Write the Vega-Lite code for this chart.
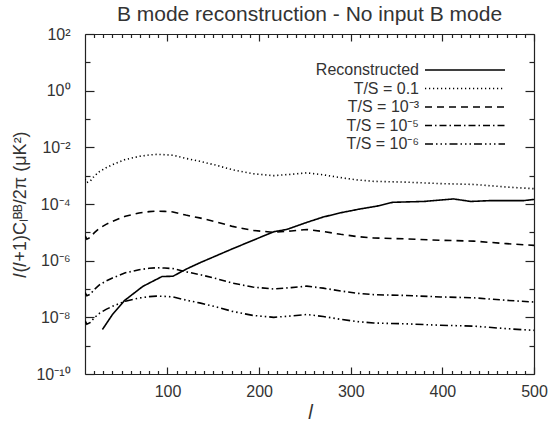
{
  "$schema": "https://vega.github.io/schema/vega-lite/v6.json",
  "width": 449,
  "height": 340,
  "autosize": {"type": "none"},
  "padding": {"left": 85, "top": 34, "right": 14, "bottom": 54},
  "background": "white",
  "title": {"text": "B mode reconstruction - No input B mode", "fontSize": 21, "font": "Liberation Sans", "fontWeight": "normal", "color": "#333333", "anchor": "middle", "offset": 1},
  "config": {
    "view": {"stroke": null},
    "axis": {"labelFont": "Liberation Sans", "labelFontSize": 16, "labelColor": "#333333", "titleFont": "Liberation Sans", "titleColor": "#333333", "titleFontWeight": "normal", "domainColor": "#222222", "tickColor": "#222222", "grid": false, "domainWidth": 1.2, "tickWidth": 1.2}
  },
  "datasets": {
    "curves": [
      {"s": "Reconstructed", "l": 29, "v": 3.72e-9},
      {"s": "Reconstructed", "l": 40, "v": 1.26e-8},
      {"s": "Reconstructed", "l": 53, "v": 3.89e-8},
      {"s": "Reconstructed", "l": 73, "v": 1.23e-7},
      {"s": "Reconstructed", "l": 94, "v": 2.75e-7},
      {"s": "Reconstructed", "l": 106, "v": 2.82e-7},
      {"s": "Reconstructed", "l": 121, "v": 5.13e-7},
      {"s": "Reconstructed", "l": 135, "v": 8.32e-7},
      {"s": "Reconstructed", "l": 171, "v": 2.63e-6},
      {"s": "Reconstructed", "l": 216, "v": 1.05e-5},
      {"s": "Reconstructed", "l": 230, "v": 1.26e-5},
      {"s": "Reconstructed", "l": 252, "v": 2.24e-5},
      {"s": "Reconstructed", "l": 270, "v": 3.47e-5},
      {"s": "Reconstructed", "l": 289, "v": 4.90e-5},
      {"s": "Reconstructed", "l": 311, "v": 6.76e-5},
      {"s": "Reconstructed", "l": 328, "v": 8.32e-5},
      {"s": "Reconstructed", "l": 346, "v": 1.15e-4},
      {"s": "Reconstructed", "l": 380, "v": 1.23e-4},
      {"s": "Reconstructed", "l": 412, "v": 1.51e-4},
      {"s": "Reconstructed", "l": 431, "v": 1.23e-4},
      {"s": "Reconstructed", "l": 453, "v": 1.32e-4},
      {"s": "Reconstructed", "l": 489, "v": 1.32e-4},
      {"s": "Reconstructed", "l": 500, "v": 1.45e-4},

      {"s": "T/S = 0.1", "l": 10, "v": 7.59e-4},
      {"s": "T/S = 0.1", "l": 12, "v": 5.75e-4},
      {"s": "T/S = 0.1", "l": 16, "v": 6.61e-4},
      {"s": "T/S = 0.1", "l": 20, "v": 9.55e-4},
      {"s": "T/S = 0.1", "l": 26, "v": 1.41e-3},
      {"s": "T/S = 0.1", "l": 33, "v": 1.91e-3},
      {"s": "T/S = 0.1", "l": 40, "v": 2.45e-3},
      {"s": "T/S = 0.1", "l": 54, "v": 3.72e-3},
      {"s": "T/S = 0.1", "l": 69, "v": 4.79e-3},
      {"s": "T/S = 0.1", "l": 80, "v": 5.37e-3},
      {"s": "T/S = 0.1", "l": 88, "v": 5.62e-3},
      {"s": "T/S = 0.1", "l": 97, "v": 5.50e-3},
      {"s": "T/S = 0.1", "l": 106, "v": 5.25e-3},
      {"s": "T/S = 0.1", "l": 120, "v": 4.07e-3},
      {"s": "T/S = 0.1", "l": 135, "v": 3.24e-3},
      {"s": "T/S = 0.1", "l": 153, "v": 2.34e-3},
      {"s": "T/S = 0.1", "l": 171, "v": 1.62e-3},
      {"s": "T/S = 0.1", "l": 193, "v": 1.17e-3},
      {"s": "T/S = 0.1", "l": 216, "v": 1.00e-3},
      {"s": "T/S = 0.1", "l": 235, "v": 1.12e-3},
      {"s": "T/S = 0.1", "l": 252, "v": 1.26e-3},
      {"s": "T/S = 0.1", "l": 270, "v": 1.07e-3},
      {"s": "T/S = 0.1", "l": 289, "v": 8.51e-4},
      {"s": "T/S = 0.1", "l": 307, "v": 7.08e-4},
      {"s": "T/S = 0.1", "l": 325, "v": 6.31e-4},
      {"s": "T/S = 0.1", "l": 361, "v": 5.89e-4},
      {"s": "T/S = 0.1", "l": 398, "v": 5.25e-4},
      {"s": "T/S = 0.1", "l": 434, "v": 4.90e-4},
      {"s": "T/S = 0.1", "l": 470, "v": 3.98e-4},
      {"s": "T/S = 0.1", "l": 500, "v": 3.47e-4},

      {"s": "T/S = 10⁻³", "l": 10, "v": 7.59e-6},
      {"s": "T/S = 10⁻³", "l": 12, "v": 5.75e-6},
      {"s": "T/S = 10⁻³", "l": 16, "v": 6.61e-6},
      {"s": "T/S = 10⁻³", "l": 20, "v": 9.55e-6},
      {"s": "T/S = 10⁻³", "l": 26, "v": 1.41e-5},
      {"s": "T/S = 10⁻³", "l": 33, "v": 1.91e-5},
      {"s": "T/S = 10⁻³", "l": 40, "v": 2.45e-5},
      {"s": "T/S = 10⁻³", "l": 54, "v": 3.72e-5},
      {"s": "T/S = 10⁻³", "l": 69, "v": 4.79e-5},
      {"s": "T/S = 10⁻³", "l": 80, "v": 5.37e-5},
      {"s": "T/S = 10⁻³", "l": 88, "v": 5.62e-5},
      {"s": "T/S = 10⁻³", "l": 97, "v": 5.50e-5},
      {"s": "T/S = 10⁻³", "l": 106, "v": 5.25e-5},
      {"s": "T/S = 10⁻³", "l": 120, "v": 4.07e-5},
      {"s": "T/S = 10⁻³", "l": 135, "v": 3.24e-5},
      {"s": "T/S = 10⁻³", "l": 153, "v": 2.34e-5},
      {"s": "T/S = 10⁻³", "l": 171, "v": 1.62e-5},
      {"s": "T/S = 10⁻³", "l": 193, "v": 1.17e-5},
      {"s": "T/S = 10⁻³", "l": 216, "v": 1.00e-5},
      {"s": "T/S = 10⁻³", "l": 235, "v": 1.12e-5},
      {"s": "T/S = 10⁻³", "l": 252, "v": 1.26e-5},
      {"s": "T/S = 10⁻³", "l": 270, "v": 1.07e-5},
      {"s": "T/S = 10⁻³", "l": 289, "v": 8.51e-6},
      {"s": "T/S = 10⁻³", "l": 307, "v": 7.08e-6},
      {"s": "T/S = 10⁻³", "l": 325, "v": 6.31e-6},
      {"s": "T/S = 10⁻³", "l": 361, "v": 5.89e-6},
      {"s": "T/S = 10⁻³", "l": 398, "v": 5.25e-6},
      {"s": "T/S = 10⁻³", "l": 434, "v": 4.90e-6},
      {"s": "T/S = 10⁻³", "l": 470, "v": 3.98e-6},
      {"s": "T/S = 10⁻³", "l": 500, "v": 3.47e-6},

      {"s": "T/S = 10⁻⁵", "l": 10, "v": 7.59e-8},
      {"s": "T/S = 10⁻⁵", "l": 12, "v": 5.75e-8},
      {"s": "T/S = 10⁻⁵", "l": 16, "v": 6.61e-8},
      {"s": "T/S = 10⁻⁵", "l": 20, "v": 9.55e-8},
      {"s": "T/S = 10⁻⁵", "l": 26, "v": 1.41e-7},
      {"s": "T/S = 10⁻⁵", "l": 33, "v": 1.91e-7},
      {"s": "T/S = 10⁻⁵", "l": 40, "v": 2.45e-7},
      {"s": "T/S = 10⁻⁵", "l": 54, "v": 3.72e-7},
      {"s": "T/S = 10⁻⁵", "l": 69, "v": 4.79e-7},
      {"s": "T/S = 10⁻⁵", "l": 80, "v": 5.37e-7},
      {"s": "T/S = 10⁻⁵", "l": 88, "v": 5.62e-7},
      {"s": "T/S = 10⁻⁵", "l": 97, "v": 5.50e-7},
      {"s": "T/S = 10⁻⁵", "l": 106, "v": 5.25e-7},
      {"s": "T/S = 10⁻⁵", "l": 120, "v": 4.07e-7},
      {"s": "T/S = 10⁻⁵", "l": 135, "v": 3.24e-7},
      {"s": "T/S = 10⁻⁵", "l": 153, "v": 2.34e-7},
      {"s": "T/S = 10⁻⁵", "l": 171, "v": 1.62e-7},
      {"s": "T/S = 10⁻⁵", "l": 193, "v": 1.17e-7},
      {"s": "T/S = 10⁻⁵", "l": 216, "v": 1.00e-7},
      {"s": "T/S = 10⁻⁵", "l": 235, "v": 1.12e-7},
      {"s": "T/S = 10⁻⁵", "l": 252, "v": 1.26e-7},
      {"s": "T/S = 10⁻⁵", "l": 270, "v": 1.07e-7},
      {"s": "T/S = 10⁻⁵", "l": 289, "v": 8.51e-8},
      {"s": "T/S = 10⁻⁵", "l": 307, "v": 7.08e-8},
      {"s": "T/S = 10⁻⁵", "l": 325, "v": 6.31e-8},
      {"s": "T/S = 10⁻⁵", "l": 361, "v": 5.89e-8},
      {"s": "T/S = 10⁻⁵", "l": 398, "v": 5.25e-8},
      {"s": "T/S = 10⁻⁵", "l": 434, "v": 4.90e-8},
      {"s": "T/S = 10⁻⁵", "l": 470, "v": 3.98e-8},
      {"s": "T/S = 10⁻⁵", "l": 500, "v": 3.47e-8},

      {"s": "T/S = 10⁻⁶", "l": 10, "v": 7.59e-9},
      {"s": "T/S = 10⁻⁶", "l": 12, "v": 5.75e-9},
      {"s": "T/S = 10⁻⁶", "l": 16, "v": 6.61e-9},
      {"s": "T/S = 10⁻⁶", "l": 20, "v": 9.55e-9},
      {"s": "T/S = 10⁻⁶", "l": 26, "v": 1.41e-8},
      {"s": "T/S = 10⁻⁶", "l": 33, "v": 1.91e-8},
      {"s": "T/S = 10⁻⁶", "l": 40, "v": 2.45e-8},
      {"s": "T/S = 10⁻⁶", "l": 54, "v": 3.72e-8},
      {"s": "T/S = 10⁻⁶", "l": 69, "v": 4.79e-8},
      {"s": "T/S = 10⁻⁶", "l": 80, "v": 5.37e-8},
      {"s": "T/S = 10⁻⁶", "l": 88, "v": 5.62e-8},
      {"s": "T/S = 10⁻⁶", "l": 97, "v": 5.50e-8},
      {"s": "T/S = 10⁻⁶", "l": 106, "v": 5.25e-8},
      {"s": "T/S = 10⁻⁶", "l": 120, "v": 4.07e-8},
      {"s": "T/S = 10⁻⁶", "l": 135, "v": 3.24e-8},
      {"s": "T/S = 10⁻⁶", "l": 153, "v": 2.34e-8},
      {"s": "T/S = 10⁻⁶", "l": 171, "v": 1.62e-8},
      {"s": "T/S = 10⁻⁶", "l": 193, "v": 1.17e-8},
      {"s": "T/S = 10⁻⁶", "l": 216, "v": 1.00e-8},
      {"s": "T/S = 10⁻⁶", "l": 235, "v": 1.12e-8},
      {"s": "T/S = 10⁻⁶", "l": 252, "v": 1.26e-8},
      {"s": "T/S = 10⁻⁶", "l": 270, "v": 1.07e-8},
      {"s": "T/S = 10⁻⁶", "l": 289, "v": 8.51e-9},
      {"s": "T/S = 10⁻⁶", "l": 307, "v": 7.08e-9},
      {"s": "T/S = 10⁻⁶", "l": 325, "v": 6.31e-9},
      {"s": "T/S = 10⁻⁶", "l": 361, "v": 5.89e-9},
      {"s": "T/S = 10⁻⁶", "l": 398, "v": 5.25e-9},
      {"s": "T/S = 10⁻⁶", "l": 434, "v": 4.90e-9},
      {"s": "T/S = 10⁻⁶", "l": 470, "v": 3.98e-9},
      {"s": "T/S = 10⁻⁶", "l": 500, "v": 3.47e-9}
    ]
  },
  "data": {"name": "curves"},
  "layer": [
    {
      "mark": {"type": "line", "strokeWidth": 1.6, "color": "black", "clip": true},
      "encoding": {
        "x": {"field": "l", "type": "quantitative",
          "scale": {"domain": [10, 500], "nice": false, "zero": false},
          "axis": {"orient": "bottom", "values": [100, 200, 300, 400, 500], "tickSize": -7, "labelPadding": 16, "labelFlush": false, "title": "𝑙", "titleFontSize": 20, "titlePadding": 3}},
        "y": {"field": "v", "type": "quantitative",
          "scale": {"type": "log", "domain": [1e-10, 100], "nice": false},
          "axis": {"orient": "left", "values": [1e-10, 1e-8, 1e-6, 1e-4, 1e-2, 1, 100], "tickSize": -9, "labelPadding": 24,
            "labelExpr": "round(log(datum.value)/LN10) == 2 ? '10²' : round(log(datum.value)/LN10) == 0 ? '10⁰' : round(log(datum.value)/LN10) == -2 ? '10⁻²' : round(log(datum.value)/LN10) == -4 ? '10⁻⁴' : round(log(datum.value)/LN10) == -6 ? '10⁻⁶' : round(log(datum.value)/LN10) == -8 ? '10⁻⁸' : '10⁻¹⁰'",
            "title": "𝑙(𝑙+1)Cₗᴮᴮ/2π  (μK²)", "titleFontSize": 18, "titlePadding": 6}},
        "strokeDash": {"field": "s", "type": "nominal",
          "scale": {"domain": ["Reconstructed", "T/S = 0.1", "T/S = 10⁻³", "T/S = 10⁻⁵", "T/S = 10⁻⁶"],
            "range": [[1, 0], [1.2, 2.8], [7, 5], [7, 3, 1.5, 3], [8, 3, 1.5, 3, 1.5, 3, 1.5, 3]]},
          "legend": {"orient": "none", "legendX": 371, "legendY": 27, "title": null,
            "symbolType": "M-5,0H5", "symbolSize": 256, "symbolStrokeWidth": 1.5, "symbolStrokeColor": "black", "symbolFillColor": "transparent",
            "labelAlign": "right", "labelOffset": -55, "labelFontSize": 16, "labelFont": "Liberation Sans", "labelColor": "#333333", "labelLimit": 300,
            "rowPadding": 1.5, "padding": 0}}
      }
    },
    {
      "mark": {"type": "point", "opacity": 0},
      "encoding": {
        "x": {"field": "l", "type": "quantitative",
          "axis": {"orient": "bottom", "values": [20, 30, 40, 50, 60, 70, 80, 90, 110, 120, 130, 140, 150, 160, 170, 180, 190, 210, 220, 230, 240, 250, 260, 270, 280, 290, 310, 320, 330, 340, 350, 360, 370, 380, 390, 410, 420, 430, 440, 450, 460, 470, 480, 490], "tickSize": -3.5, "labels": false, "domain": false, "title": null}},
        "y": {"field": "v", "type": "quantitative",
          "axis": {"orient": "left", "values": [1e-9, 1e-7, 1e-5, 1e-3, 1e-1, 10], "tickSize": -5, "labels": false, "domain": false, "title": null}}
      }
    },
    {
      "mark": {"type": "point", "opacity": 0},
      "encoding": {
        "x": {"field": "l", "type": "quantitative",
          "axis": {"orient": "top", "values": [100, 200, 300, 400, 500], "tickSize": -7, "labels": false, "title": null}},
        "y": {"field": "v", "type": "quantitative",
          "axis": {"orient": "right", "values": [1e-10, 1e-8, 1e-6, 1e-4, 1e-2, 1, 100], "tickSize": -9, "labels": false, "title": null}}
      }
    },
    {
      "mark": {"type": "point", "opacity": 0},
      "encoding": {
        "x": {"field": "l", "type": "quantitative",
          "axis": {"orient": "top", "values": [20, 30, 40, 50, 60, 70, 80, 90, 110, 120, 130, 140, 150, 160, 170, 180, 190, 210, 220, 230, 240, 250, 260, 270, 280, 290, 310, 320, 330, 340, 350, 360, 370, 380, 390, 410, 420, 430, 440, 450, 460, 470, 480, 490], "tickSize": -3.5, "labels": false, "domain": false, "title": null}},
        "y": {"field": "v", "type": "quantitative",
          "axis": {"orient": "right", "values": [1e-9, 1e-7, 1e-5, 1e-3, 1e-1, 10], "tickSize": -5, "labels": false, "domain": false, "title": null}}
      }
    }
  ],
  "resolve": {"axis": {"x": "independent", "y": "independent"}}
}
